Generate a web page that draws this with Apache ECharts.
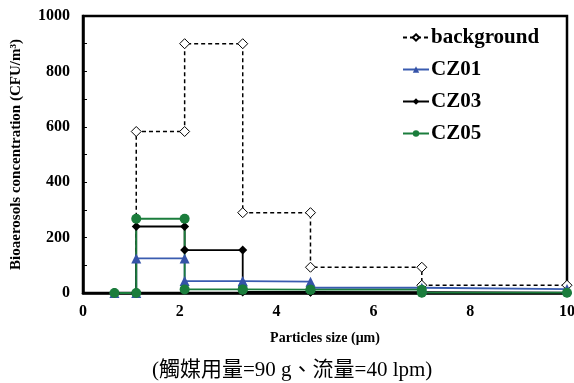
<!DOCTYPE html>
<html lang="en" style="height: 100%">
<head>
  <meta charset="utf-8">
</head>
<body style="height: 100%; margin: 0; background: #fff">
  <div id="container" style="width: 574px; height: 383px"></div>

  <script type="text/javascript" src="https://fastly.jsdelivr.net/npm/echarts@6/dist/echarts.min.js"></script>
  <script type="text/javascript">
    // stage boundaries (um) and the level of each series between two boundaries
    var sizes = [0.65, 1.1, 2.1, 3.3, 4.7, 7.0, 10];
    var background = [0, 583, 900, 290, 93, 28];
    var cz01 = [0, 125, 43, 41, 19, 14];
    var cz03 = [0, 240, 155, 4, 3, 0];
    var cz05 = [0, 268, 13, 12, 12, 1];
    var xTicks = [0, 2, 4, 6, 8, 10];
    var yTicks = [0, 200, 400, 600, 800, 1000];

    // turn the levels into step points, a point at each corner
    function steps(levels) {
      var pts = [];
      for (var i = 0; i < levels.length; i++) {
        pts.push([sizes[i], levels[i]]);
        pts.push([sizes[i + 1], levels[i]]);
      }
      return pts;
    }

    var serif = '"Liberation Serif", "Times New Roman", serif';

    var dom = document.getElementById('container');
    var myChart = echarts.init(dom, null, { renderer: 'canvas' });

    var option = {
      animation: false,
      title: {
        text: '(觸媒用量=90 g、流量=40 lpm)',
        left: 147,
        top: 355,
        textStyle: {
          fontFamily: '"Liberation Serif", "Noto Sans CJK TC", serif',
          fontWeight: 'normal',
          fontSize: 21,
          color: '#000'
        }
      },
      legend: {
        orient: 'vertical',
        left: 397,
        top: 22,
        itemGap: 11,
        itemWidth: 26,
        itemHeight: 8,
        textStyle: {
          fontFamily: serif,
          fontWeight: 'bold',
          fontSize: 21,
          color: '#000',
          padding: [0, 0, 0, -3]
        },
        data: ['background', 'CZ01', 'CZ03', 'CZ05']
      },
      grid: {
        left: 83,
        right: 7,
        top: 16,
        bottom: 90,
        outerBoundsMode: 'none',
        show: true,
        borderColor: '#000',
        borderWidth: 2.5
      },
      xAxis: {
        type: 'value',
        min: xTicks[0],
        max: xTicks[xTicks.length - 1],
        interval: 2,
        name: 'Particles size (μm)',
        nameLocation: 'middle',
        nameGap: 38,
        nameTextStyle: { fontFamily: serif, fontWeight: 'bold', fontSize: 14, color: '#000' },
        axisLine: { lineStyle: { color: '#000', width: 2.5 } },
        axisTick: { show: false },
        splitLine: { show: false },
        axisLabel: { fontFamily: serif, fontWeight: 'bold', fontSize: 16, color: '#000', margin: 11 }
      },
      yAxis: {
        type: 'value',
        min: yTicks[0],
        max: yTicks[yTicks.length - 1],
        interval: 200,
        name: 'Bioaerosols concentration (CFU/m³)',
        nameLocation: 'middle',
        nameGap: 59,
        nameTextStyle: { fontFamily: serif, fontWeight: 'bold', fontSize: 15, color: '#000' },
        axisLine: { lineStyle: { color: '#000', width: 2.5 } },
        axisTick: { show: true, inside: true, length: 4, lineStyle: { color: '#000' } },
        minorTick: { show: true, splitNumber: 2, length: 4, lineStyle: { color: '#000' } },
        splitLine: { show: false },
        axisLabel: {
          fontFamily: serif, fontWeight: 'bold', fontSize: 16, color: '#000', margin: 13,
          formatter: function (v) { return String(v); }
        }
      },
      series: [
        {
          name: 'background',
          type: 'line',
          data: steps(background),
          symbol: 'diamond',
          symbolSize: 10,
          itemStyle: { color: '#fff', borderColor: '#000', borderWidth: 1 },
          lineStyle: { color: '#000', width: 1.5, type: [4, 3] }
        },
        {
          name: 'CZ01',
          type: 'line',
          data: steps(cz01),
          symbol: 'triangle',
          symbolSize: 10,
          itemStyle: { color: '#3553a8' },
          lineStyle: { color: '#3a5cb0', width: 1.8 }
        },
        {
          name: 'CZ03',
          type: 'line',
          data: steps(cz03),
          symbol: 'diamond',
          symbolSize: 9,
          itemStyle: { color: '#000' },
          lineStyle: { color: '#000', width: 1.8 }
        },
        {
          name: 'CZ05',
          type: 'line',
          data: steps(cz05),
          symbol: 'circle',
          symbolSize: 10,
          itemStyle: { color: '#1b7d3c' },
          lineStyle: { color: '#1b7d3c', width: 1.8 }
        }
      ]
    };

    myChart.setOption(option);
    window.addEventListener('resize', myChart.resize);
  </script>
</body>
</html>
